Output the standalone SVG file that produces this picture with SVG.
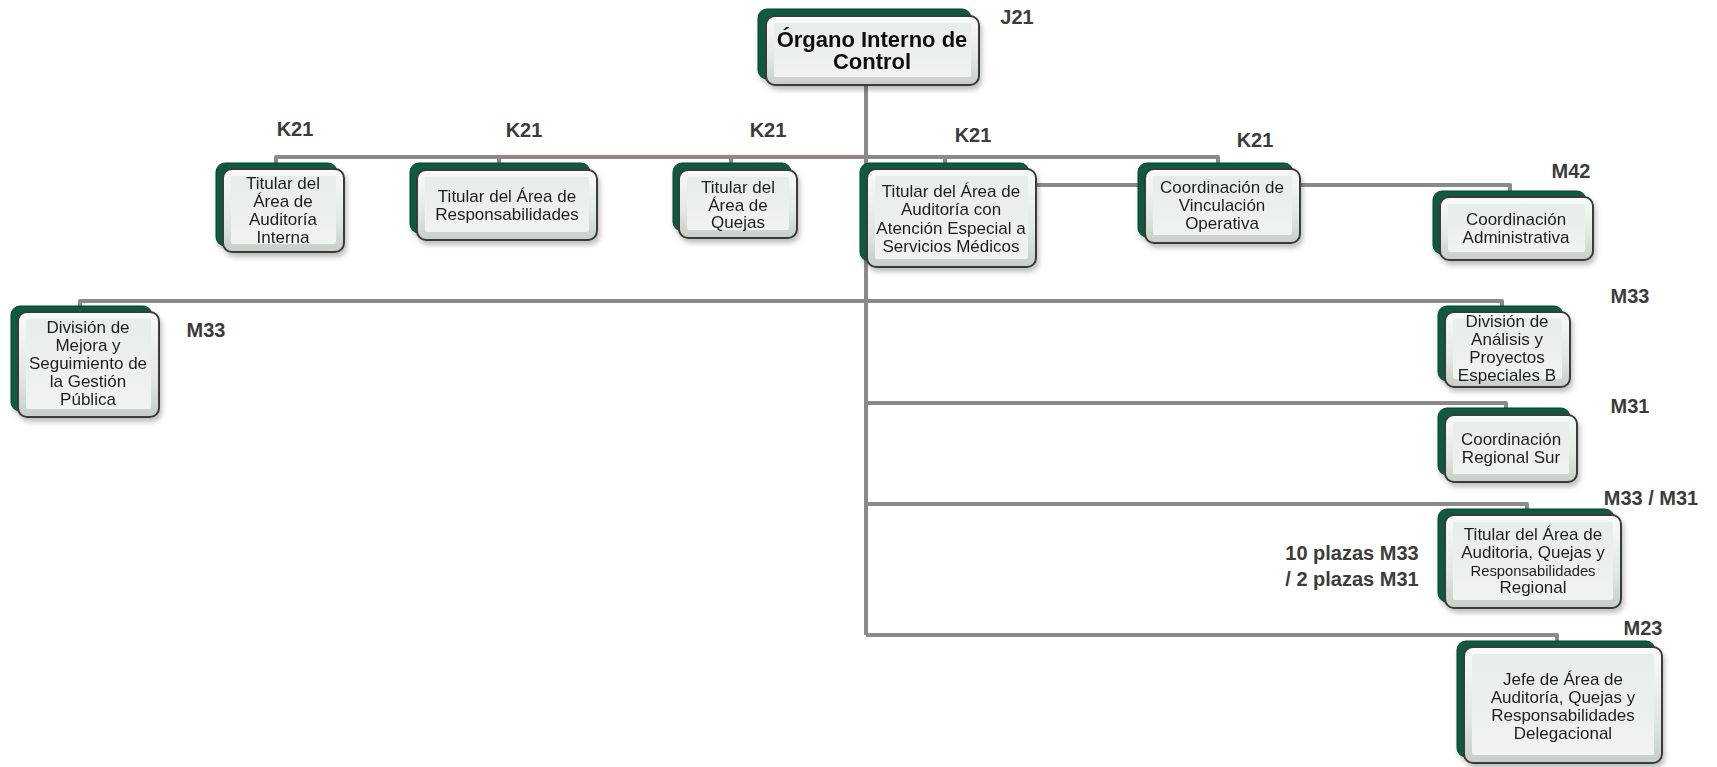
<svg xmlns="http://www.w3.org/2000/svg" width="1717" height="767" viewBox="0 0 1717 767">
<style>
.back{fill:#0e5a40;stroke:#08402d;stroke-width:1}
.front{fill:url(#bev);stroke:#3a3a3a;stroke-width:2}
.inner{fill:url(#pan)}
.t{font-family:"Liberation Sans",Arial,sans-serif;font-size:17px;fill:#1e1e1e;text-anchor:middle}
.ts{font-size:14.8px}
.root{font-size:22px;font-weight:bold;fill:#111}
.lbl{font-family:"Liberation Sans",Arial,sans-serif;font-size:20px;font-weight:bold;fill:#3c3c3c;text-anchor:middle}
.c{fill:none;stroke:#8a8a8a;stroke-width:4;stroke-linejoin:round;stroke-linecap:butt}
.red{fill:none;stroke:#d46a6a;stroke-width:1.2}
</style>
<defs>
<linearGradient id="bev" x1="0" y1="0" x2="0" y2="1">
<stop offset="0" stop-color="#f8faf8"/>
<stop offset="0.6" stop-color="#e3e8e4"/>
<stop offset="1" stop-color="#c6cec8"/>
</linearGradient>
<linearGradient id="pan" x1="0" y1="0" x2="0" y2="1">
<stop offset="0" stop-color="#e7ede8"/>
<stop offset="1" stop-color="#f0f3f0"/>
</linearGradient>
<filter id="sh" x="-10%" y="-10%" width="125%" height="135%">
<feDropShadow dx="2" dy="4" stdDeviation="2.5" flood-color="#000" flood-opacity="0.25"/>
</filter>
</defs>

<g id="connectors">
<path class="c" d="M866 85 V635"/>
<path class="c" d="M276 164 V157 H1218 V164"/>
<path class="c" d="M499 157 V164"/>
<path class="c" d="M731 157 V164"/>
<path class="c" d="M945 157 V164"/>
<path class="c" d="M866 185 H1510 V192"/>
<path class="c" d="M80 307 V301 H1502 V307"/>
<path class="c" d="M866 403 H1506 V409"/>
<path class="c" d="M866 504 H1527 V510"/>
<path class="c" d="M866 635 H1557 V642"/>
<path class="red" d="M499 164 V155.5 H864"/>
<path class="red" d="M731 155.5 V164"/>
</g>

<g id="n-root" filter="url(#sh)">
<rect class="back" x="758" y="9" width="213" height="70" rx="9"/>
<rect class="front" x="766" y="16" width="213" height="69" rx="9"/>
<rect class="inner" x="774" y="23" width="197" height="54" rx="2"/>
<text class="t root" x="872" y="47">Órgano Interno de</text>
<text class="t root" x="872" y="69">Control</text>
</g>

<g id="n1" filter="url(#sh)">
<rect class="back" x="216" y="163" width="121" height="83" rx="9"/>
<rect class="front" x="223" y="169" width="121" height="83" rx="9"/>
<rect class="inner" x="231" y="176" width="105" height="68" rx="2"/>
<text class="t" x="283" y="189">Titular del</text>
<text class="t" x="283" y="207">Área de</text>
<text class="t" x="283" y="225">Auditoría</text>
<text class="t" x="283" y="243">Interna</text>
</g>

<g id="n2" filter="url(#sh)">
<rect class="back" x="410" y="163" width="180" height="70" rx="9"/>
<rect class="front" x="417" y="170" width="180" height="70" rx="9"/>
<rect class="inner" x="425" y="177" width="164" height="55" rx="2"/>
<text class="t" x="507" y="202">Titular del Área de</text>
<text class="t" x="507" y="220">Responsabilidades</text>
</g>

<g id="n3" filter="url(#sh)">
<rect class="back" x="673" y="163" width="118" height="68" rx="9"/>
<rect class="front" x="679" y="170" width="118" height="68" rx="9"/>
<rect class="inner" x="687" y="177" width="102" height="53" rx="2"/>
<text class="t" x="738" y="193">Titular del</text>
<text class="t" x="738" y="211">Área de</text>
<text class="t" x="738" y="228">Quejas</text>
</g>

<g id="n4" filter="url(#sh)">
<rect class="back" x="860" y="163" width="169" height="98" rx="9"/>
<rect class="front" x="867" y="169" width="169" height="98" rx="9"/>
<rect class="inner" x="875" y="176" width="153" height="83" rx="2"/>
<text class="t" x="951" y="197">Titular del Área de</text>
<text class="t" x="951" y="215">Auditoría con</text>
<text class="t" x="951" y="234">Atención Especial a</text>
<text class="t" x="951" y="252">Servicios Médicos</text>
</g>

<g id="n5" filter="url(#sh)">
<rect class="back" x="1138" y="163" width="155" height="74" rx="9"/>
<rect class="front" x="1145" y="169" width="155" height="74" rx="9"/>
<rect class="inner" x="1153" y="176" width="139" height="59" rx="2"/>
<text class="t" x="1222" y="193">Coordinación de</text>
<text class="t" x="1222" y="211">Vinculación</text>
<text class="t" x="1222" y="229">Operativa</text>
</g>

<g id="n6" filter="url(#sh)">
<rect class="back" x="1433" y="191" width="153" height="63" rx="9"/>
<rect class="front" x="1440" y="197" width="153" height="63" rx="9"/>
<rect class="inner" x="1448" y="204" width="137" height="48" rx="2"/>
<text class="t" x="1516" y="225">Coordinación</text>
<text class="t" x="1516" y="243">Administrativa</text>
</g>

<g id="n7" filter="url(#sh)">
<rect class="back" x="11" y="306" width="141" height="105" rx="9"/>
<rect class="front" x="18" y="312" width="141" height="105" rx="9"/>
<rect class="inner" x="26" y="319" width="125" height="90" rx="2"/>
<text class="t" x="88" y="333">División de</text>
<text class="t" x="88" y="351">Mejora y</text>
<text class="t" x="88" y="369">Seguimiento de</text>
<text class="t" x="88" y="387">la Gestión</text>
<text class="t" x="88" y="405">Pública</text>
</g>

<g id="n8" filter="url(#sh)">
<rect class="back" x="1438" y="306" width="125" height="75" rx="9"/>
<rect class="front" x="1445" y="312" width="125" height="75" rx="9"/>
<rect class="inner" x="1453" y="319" width="109" height="60" rx="2"/>
<text class="t" x="1507" y="327">División de</text>
<text class="t" x="1507" y="345">Análisis y</text>
<text class="t" x="1507" y="363">Proyectos</text>
<text class="t" x="1507" y="381">Especiales B</text>
</g>

<g id="n9" filter="url(#sh)">
<rect class="back" x="1438" y="408" width="132" height="67" rx="9"/>
<rect class="front" x="1445" y="415" width="132" height="67" rx="9"/>
<rect class="inner" x="1453" y="422" width="116" height="52" rx="2"/>
<text class="t" x="1511" y="445">Coordinación</text>
<text class="t" x="1511" y="463">Regional Sur</text>
</g>

<g id="n10" filter="url(#sh)">
<rect class="back" x="1438" y="509" width="176" height="93" rx="9"/>
<rect class="front" x="1445" y="515" width="176" height="93" rx="9"/>
<rect class="inner" x="1453" y="522" width="160" height="78" rx="2"/>
<text class="t" x="1533" y="540">Titular del Área de</text>
<text class="t" x="1533" y="558">Auditoria, Quejas y</text>
<text class="t ts" x="1533" y="576">Responsabilidades</text>
<text class="t" x="1533" y="593">Regional</text>
</g>

<g id="n11" filter="url(#sh)">
<rect class="back" x="1457" y="641" width="198" height="116" rx="9"/>
<rect class="front" x="1464" y="647" width="198" height="116" rx="9"/>
<rect class="inner" x="1472" y="654" width="182" height="101" rx="2"/>
<text class="t" x="1563" y="685">Jefe de Área de</text>
<text class="t" x="1563" y="703">Auditoría, Quejas y</text>
<text class="t" x="1563" y="721">Responsabilidades</text>
<text class="t" x="1563" y="739">Delegacional</text>
</g>

<g id="labels">
<text class="lbl" x="1017" y="24">J21</text>
<text class="lbl" x="295" y="136">K21</text>
<text class="lbl" x="524" y="137">K21</text>
<text class="lbl" x="768" y="137">K21</text>
<text class="lbl" x="973" y="142">K21</text>
<text class="lbl" x="1255" y="147">K21</text>
<text class="lbl" x="1571" y="178">M42</text>
<text class="lbl" x="206" y="337">M33</text>
<text class="lbl" x="1630" y="303">M33</text>
<text class="lbl" x="1630" y="413">M31</text>
<text class="lbl" x="1651" y="505">M33 / M31</text>
<text class="lbl" x="1643" y="635">M23</text>
<text class="lbl" x="1352" y="560">10 plazas M33</text>
<text class="lbl" x="1352" y="586">/ 2 plazas M31</text>
</g>
</svg>
